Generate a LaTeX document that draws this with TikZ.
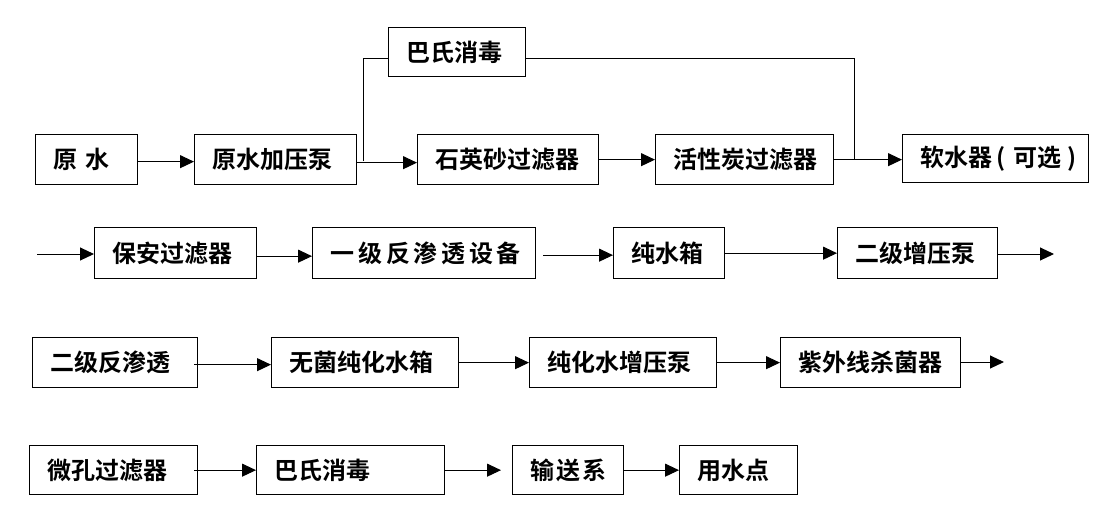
\documentclass[tikz,border=0pt]{standalone}
\usepackage{fontspec}
\newfontfamily\cjk{Noto Sans CJK SC}[BoldFont={Noto Sans CJK SC Bold}]
\usetikzlibrary{arrows.meta}
\tikzset{
  box/.style={draw=black, line width=1.3pt, anchor=north west, inner xsep=18pt, inner ysep=0pt,
    align=left, font=\cjk\bfseries\fontsize{24}{28}\selectfont},
  arr/.style={line width=1pt, -{Triangle[length=14pt,width=13pt]}},
  ln/.style={line width=1pt}
}
\begin{document}
\begin{tikzpicture}[x=1pt,y=-1pt]
\useasboundingbox (0,0) rectangle (1111,531);
% row 1
\node[box, minimum width=102pt, minimum height=50pt, text width=66pt] (yuan) at (35,134) {原\ 水};
\node[box, minimum width=162pt, minimum height=50pt, text width=126pt] (pump) at (194,134) {原水加压泵};
\node[box, minimum width=181pt, minimum height=50pt, text width=145pt] (sand) at (417,134) {石英砂过滤器};
\node[box, minimum width=178pt, minimum height=50pt, text width=142pt] (carbon) at (655,134) {活性炭过滤器};
\node[box, minimum width=186pt, minimum height=48pt, text width=150pt] (soft) at (902,134) {软水器\kern4pt (\kern8pt 可选\kern6pt )};
\node[box, minimum width=137pt, minimum height=49pt, text width=101pt] (bs1) at (388,27) {巴氏消毒};
% row 2
\node[box, minimum width=162pt, minimum height=51pt, text width=126pt] (baoan) at (94,227) {保安过滤器};
\node[box, minimum width=223pt, minimum height=51pt, text width=187pt] (ro1) at (312,227) {一\kern3.7pt 级\kern3.7pt 反\kern3.7pt 渗\kern3.7pt 透\kern3.7pt 设\kern3.7pt 备};
\node[box, minimum width=111pt, minimum height=51pt, text width=75pt] (pure) at (613,227) {纯水箱};
\node[box, minimum width=160pt, minimum height=51pt, text width=124pt] (pump2) at (837,227) {二级增压泵};
% row 3
\node[box, minimum width=165pt, minimum height=50pt, text width=129pt] (ro2) at (32,337) {二级反渗透};
\node[box, minimum width=187pt, minimum height=50pt, text width=151pt] (wujun) at (271,337) {无菌纯化水箱};
\node[box, minimum width=187pt, minimum height=50pt, text width=151pt] (pump3) at (529,337) {纯化水增压泵};
\node[box, minimum width=180pt, minimum height=50pt, text width=144pt] (uv) at (780,337) {紫外线杀菌器};
% row 4
\node[box, minimum width=168pt, minimum height=49pt, text width=132pt] (micro) at (29,445) {微孔过滤器};
\node[box, minimum width=188pt, minimum height=49pt, text width=152pt] (bs2) at (256,445) {巴氏消毒};
\node[box, minimum width=111pt, minimum height=49pt, text width=75pt] (ship) at (512,445) {输\kern2pt 送\kern2pt 系};
\node[box, minimum width=118pt, minimum height=49pt, text width=82pt] (use) at (679,445) {用水点};
% free ends and junctions
\coordinate (j1) at (363,161);
\coordinate (j2) at (854,159);
\coordinate (in2) at (37,254);
\coordinate (out2) at (1054,254);
\coordinate (out3) at (1004,362);
% row 1 connectors
\draw[arr] ([yshift=-2pt]yuan.east) -- ([yshift=-2pt]pump.west);
\draw[arr] ([yshift=-3pt]pump.east) -- ([yshift=-3pt]sand.west);
\draw[arr] (sand.east) -- (sand.east -| carbon.west);
\draw[arr] (carbon.east) -- (carbon.east -| soft.west);
\draw[ln] (j1) |- (bs1.west |- 0,58);
\draw[ln] (bs1.east |- 0,58) -| (j2);
% row 2
\draw[arr] (in2) -- (baoan.west |- in2);
\draw[arr] ([yshift=-3pt]baoan.east) -- ([yshift=-3pt]ro1.west);
\draw[arr] ([xshift=7pt,yshift=-2pt]ro1.east) -- ([yshift=-2pt]pure.west);
\draw[arr] (pure.east) -- (pump2.west);
\draw[arr] (pump2.east |- out2) -- (out2);
% row 3
\draw[arr] ([xshift=-4pt,yshift=-2pt]ro2.east) -- ([yshift=-2pt]wujun.west);
\draw[arr] (wujun.east) -- (pump3.west);
\draw[arr] (pump3.east) -- (uv.west);
\draw[arr] (uv.east |- out3) -- (out3);
% row 4
\draw[arr] ([xshift=-4pt]micro.east) -- (bs2.west);
\draw[arr] (bs2.east) -- ([xshift=-11pt]ship.west);
\draw[arr] (ship.east) -- (use.west);
\end{tikzpicture}
\end{document}
